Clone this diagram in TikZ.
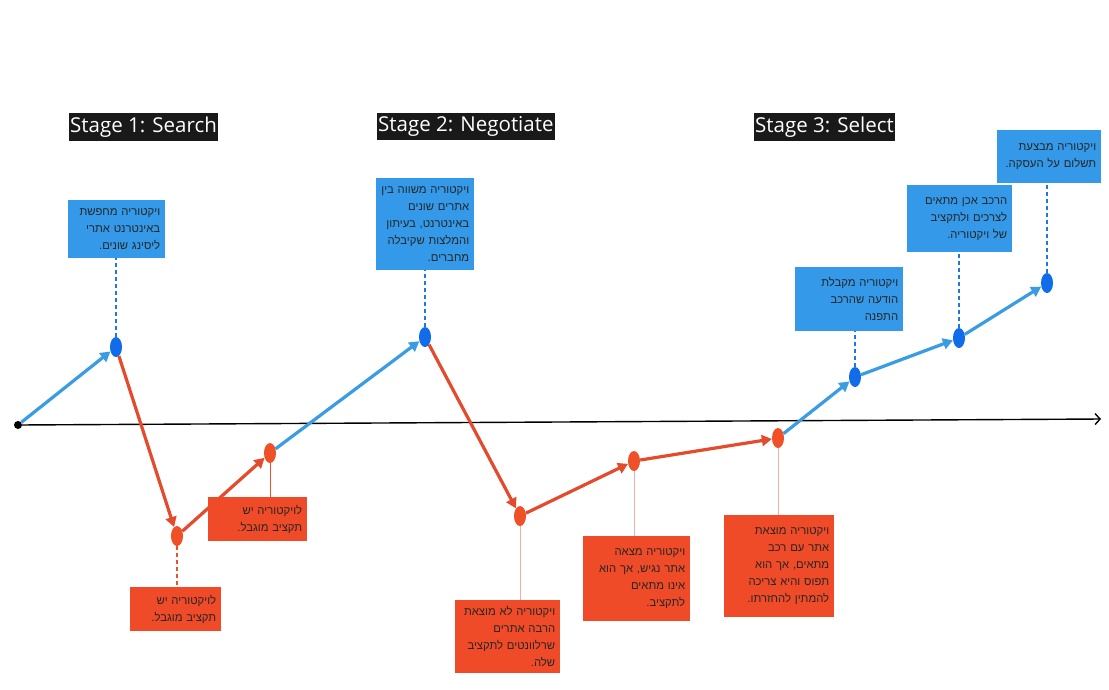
\documentclass[tikz,border=0pt]{standalone}
\usepackage{fontspec}
\setmainfont{Open Sans}
\newfontfamily\hebfont[Script=Hebrew]{Liberation Sans}
\TeXXeTstate=1
\usetikzlibrary{arrows.meta, positioning, shapes.geometric}
\definecolor{boxblue}{RGB}{51,153,232}
\definecolor{ptblue}{RGB}{16,108,232}
\definecolor{linkblue}{RGB}{30,120,225}
\definecolor{arrblue}{RGB}{58,156,226}
\definecolor{boxred}{RGB}{240,75,40}
\definecolor{ptred}{RGB}{240,80,40}
\definecolor{arrred}{RGB}{228,74,44}
\definecolor{palered}{RGB}{240,175,165}
\newcommand{\heb}[1]{\beginR#1\endR}

\tikzset{
  stagelabel/.style={fill=black!90, text=white, font=\fontsize{20.5}{24}\selectfont, inner xsep=1pt, inner ysep=3.5pt, anchor=north west},
  note/.style={anchor=north west, inner xsep=5pt, inner ysep=4pt, align=right, font=\hebfont\fontsize{11.3}{17}\selectfont, text=black!85},
  bluenote/.style={note, fill=boxblue},
  rednote/.style={note, fill=boxred},
  pt/.style={ellipse, minimum width=12pt, minimum height=20pt, inner sep=0pt},
  bluept/.style={pt, fill=ptblue},
  redpt/.style={pt, fill=ptred},
  bluearr/.style={draw=arrblue, line width=3.2pt, -{Triangle[length=10pt,width=11pt]}},
  redarr/.style={draw=arrred, line width=3.2pt, -{Triangle[length=10pt,width=11pt]}},
  bluelink/.style={draw=linkblue, line width=1.1pt, dash pattern=on 4pt off 3pt},
  redlink/.style={draw=ptred, line width=1.1pt, dash pattern=on 4pt off 3pt},
  palelink/.style={draw=palered, line width=0.8pt}
}

\begin{document}
\begin{tikzpicture}[x=1pt, y=-1pt, >=Stealth]
  \useasboundingbox[fill=white] (0,0) rectangle (1109,689);

  % stage titles
  \node[stagelabel] (st1) at (69,113) {Stage 1: Search};
  \node[stagelabel] (st2) at (377,113) {Stage 2: Negotiate};
  \node[stagelabel] (st3) at (754,113) {Stage 3: Select};

  % time axis
  \node[circle, fill=black, inner sep=0pt, minimum size=8pt] (o) at (18,425) {};
  \coordinate (xend) at (1101,419);
  \draw[line width=1.4pt, -{Straight Barb[length=5pt,width=11pt]}] (o) -- (xend);

  % touch points
  \node[bluept] (p1) at (116,347) {};
  \node[bluept] (p2) at (425,337) {};
  \node[bluept] (p3) at (855,377) {};
  \node[bluept] (p4) at (959,338) {};
  \node[bluept] (p5) at (1047,283) {};
  \node[redpt] (r1) at (177,536) {};
  \node[redpt] (r2) at (270,453) {};
  \node[redpt] (r3) at (520,516) {};
  \node[redpt] (r4) at (634,461) {};
  \node[redpt] (r5) at (778,438) {};

  % journey
  \draw[bluearr] (o) -- (p1);
  \draw[redarr] (p1) -- (r1);
  \draw[redarr] (r1) -- (r2);
  \draw[bluearr] (r2) -- (p2);
  \draw[redarr] (p2) -- (r3);
  \draw[redarr] (r3) -- (r4);
  \draw[redarr] (r4) -- (r5);
  \draw[bluearr] (r5) -- (p3);
  \draw[bluearr] (p3) -- (p4);
  \draw[bluearr] (p4) -- (p5);

  % notes
  \node[bluenote, text width=87pt, minimum height=58pt] (b1) at (68,200)
    {\heb{ויקטוריה מחפשת}\\\heb{באינטרנט אתרי}\\\heb{ליסינג שונים.}};
  \node[bluenote, text width=88pt, minimum height=92pt] (b2) at (376,178)
    {\heb{ויקטוריה משווה בין}\\\heb{אתרים שונים}\\\heb{באינטרנט, בעיתון}\\\heb{והמלצות שקיבלה}\\\heb{מחברים.}};
  \node[bluenote, text width=98pt, minimum height=64pt] (b3) at (795,267)
    {\heb{ויקטוריה מקבלת}\\\heb{הודעה שהרכב}\\\heb{התפנה}};
  \node[bluenote, text width=95pt, minimum height=67pt] (b4) at (907,185)
    {\heb{הרכב אכן מתאים}\\\heb{לצרכים ולתקציב}\\\heb{של ויקטוריה.}};
  \node[bluenote, text width=94pt, minimum height=53pt] (b5) at (997,130)
    {\heb{ויקטוריה מבצעת}\\\heb{תשלום על העסקה.}};
  \node[rednote, text width=89pt, minimum height=44pt] (b6) at (208,497)
    {\heb{לויקטוריה יש}\\\heb{תקציב מוגבל.}};
  \node[rednote, text width=81pt, minimum height=44pt] (b7) at (130,587)
    {\heb{לויקטוריה יש}\\\heb{תקציב מוגבל.}};
  \node[rednote, text width=95pt, minimum height=73pt] (b8) at (455,600)
    {\heb{ויקטוריה לא מוצאת}\\\heb{הרבה אתרים}\\\heb{שרלוונטים לתקציב}\\\heb{שלה.}};
  \node[rednote, text width=97pt, minimum height=85pt] (b9) at (583,536)
    {\heb{ויקטוריה מצאה}\\\heb{אתר נגיש, אך הוא}\\\heb{אינו מתאים}\\\heb{לתקציב.}};
  \node[rednote, text width=100pt, minimum height=102pt] (b10) at (724,515)
    {\heb{ויקטוריה מוצאת}\\\heb{אתר עם רכב}\\\heb{מתאים, אך הוא}\\\heb{תפוס והיא צריכה}\\\heb{להמתין להחזרתו.}};

  % links to notes
  \draw[bluelink] (p1) -- (p1 |- b1.south);
  \draw[bluelink] (p2) -- (p2 |- b2.south);
  \draw[bluelink] (p3) -- (p3 |- b3.south);
  \draw[bluelink] (p4) -- (p4 |- b4.south);
  \draw[bluelink] (p5) -- (p5 |- b5.south);
  \draw[redlink] (r1) -- (r1 |- b7.north);
  \draw[draw=ptred, line width=0.8pt] (r2) -- (r2 |- b6.north);
  \draw[palelink] (r3) -- (r3 |- b8.north);
  \draw[palelink] (r4) -- (r4 |- b9.north);
  \draw[palelink] (r5) -- (r5 |- b10.north);
\end{tikzpicture}
\end{document}
